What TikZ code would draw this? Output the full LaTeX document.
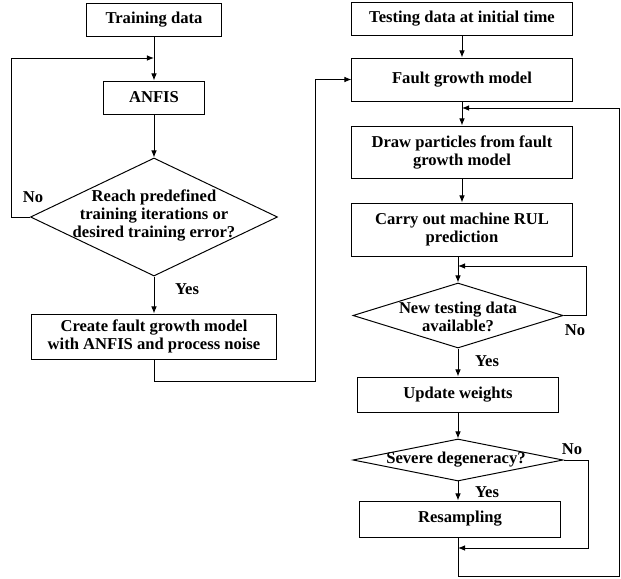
\documentclass[tikz,border=0pt]{standalone}
\usepackage{fontspec}
\setmainfont{Liberation Serif}
\usepackage{tikz}
\usetikzlibrary{shapes.geometric, arrows.meta, positioning}
\tikzset{
    box/.style={rectangle, draw, line width=0.7pt, inner sep=0pt, text centered, align=center, font=\fontsize{11.8}{12.8}\selectfont\bfseries},
    decision/.style={diamond, draw, line width=0.7pt, inner sep=0pt},
    dtext/.style={align=center, inner sep=0pt, font=\fontsize{11.8}{12.8}\selectfont\bfseries},
    tag/.style={inner sep=0pt, font=\fontsize{11.8}{12.8}\selectfont\bfseries},
    flow/.style={-{Latex[length=5pt,width=4pt]}, line width=0.7pt}
}

\begin{document}
\begin{tikzpicture}[x=0.025cm, y=-0.025cm]
    \useasboundingbox (0,0) rectangle (621,579);

    % Training side
    \node[box, minimum width=3.35cm, minimum height=0.825cm] (train) at (154,19.5) {Training data};
    \node[box, minimum width=2.5cm, minimum height=0.825cm] (anfis) at (154,97.5) {ANFIS};
    \node[decision, minimum width=6.175cm, minimum height=2.95cm] (reach) at (154,217) {};
    \node[dtext] (reachtxt) at (154,215) {Reach predefined\\training iterations or\\desired training error?};
    \node[box, minimum width=6.1cm, minimum height=1.125cm] (create) at (154,336.5) {Create fault growth model\\with ANFIS and process noise};

    % Prediction side
    \node[box, minimum width=5.525cm, minimum height=0.825cm] (test) at (462,18.5) {Testing data at initial time};
    \node[box, minimum width=5.5cm, minimum height=1.075cm] (fault) at (462,79.5) {Fault growth model};
    \node[box, minimum width=5.5cm, minimum height=1.3cm] (draw) at (462,152) {Draw particles from fault\\growth model};
    \node[box, minimum width=5.5cm, minimum height=1.325cm] (carry) at (462,229.5) {Carry out machine RUL\\prediction};
    \node[decision, minimum width=5.25cm, minimum height=1.625cm] (new) at (458,315.5) {};
    \node[dtext] (newtxt) at (458,317) {New testing data\\available?};
    \node[box, minimum width=5cm, minimum height=0.875cm] (update) at (458,394.5) {Update weights};
    \node[decision, minimum width=5.25cm, minimum height=1.05cm] (severe) at (458,460) {};
    \node[dtext] (severetxt) at (456,460) {Severe degeneracy?};
    \node[box, minimum width=5cm, minimum height=0.9cm] (resample) at (460,519) {Resampling};

    % Branch labels
    \node[tag] (no1) at (33,197) {No};
    \node[tag] (yes1) at (187,289) {Yes};
    \node[tag] (no2) at (575,330) {No};
    \node[tag] (yes2) at (487,361) {Yes};
    \node[tag] (no3) at (572,449) {No};
    \node[tag] (yes3) at (487,492) {Yes};

    % Junctions and bends
    \coordinate (jtrain) at (154,58);
    \coordinate (jmodel) at (462,108);
    \coordinate (jtest) at (458,266);
    \coordinate (jsample) at (458,548);
    \coordinate (bend1) at (315,381);
    \coordinate (bend2) at (619,576);

    % Connections
    \draw[flow] (train) -- (anfis);
    \draw[flow] (anfis) -- (reach);
    \draw[flow] (reach) -- (create);
    \draw[flow] (reach.west) -- ++(-18,0) |- (jtrain);
    \draw[flow] (create.south) |- (bend1) |- (fault.west);

    \draw[flow] (test) -- (fault);
    \draw[flow] (fault) -- (draw);
    \draw[flow] (draw) -- (carry);
    \draw[flow] (carry.south -| new.north) -- (new.north);
    \draw[flow] (new.east) -- ++(23,0) |- (jtest);
    \draw[flow] (new) -- (update);
    \draw[flow] (update) -- (severe);
    \draw[flow] (severe) -- (resample.north -| severe.south);
    \draw[flow] (severe.east) -- ++(25,0) |- (jsample);
    \draw[flow] (resample.south -| severe.south) |- (bend2) |- (jmodel);
\end{tikzpicture}
\end{document}
